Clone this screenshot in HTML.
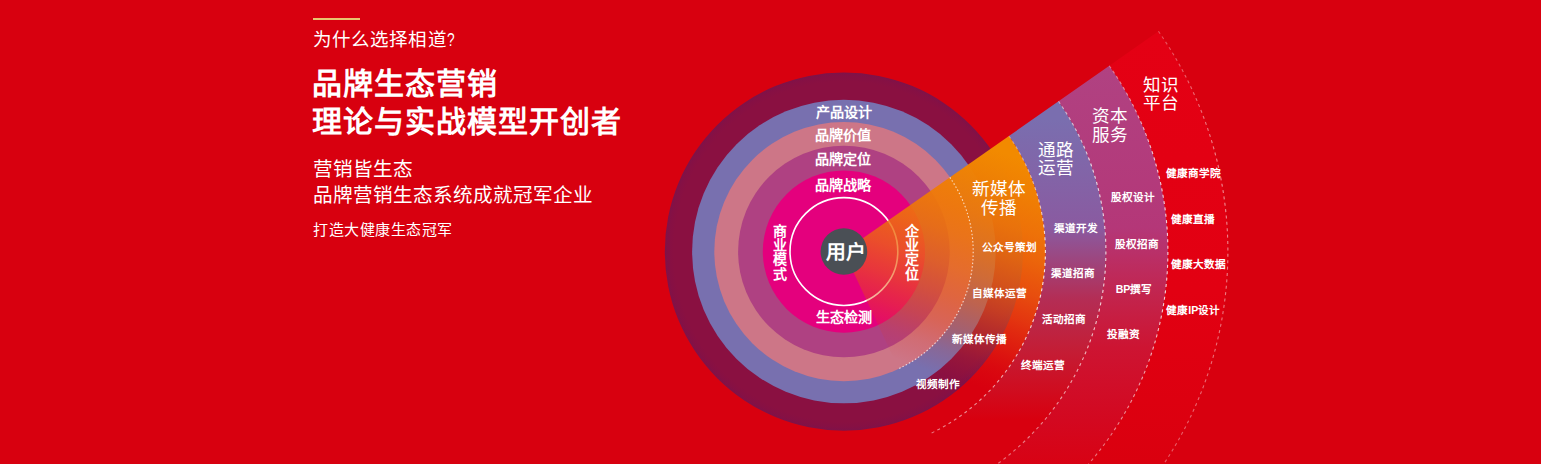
<!DOCTYPE html>
<html lang="zh-CN"><head><meta charset="utf-8">
<style>
html,body{margin:0;padding:0;}
body{width:1541px;height:464px;overflow:hidden;background:#d8000f;font-family:"Liberation Sans",sans-serif;position:relative;}
svg{position:absolute;left:0;top:0;}
svg text{font-family:"Liberation Sans",sans-serif;}
.l{position:absolute;left:313px;color:#fff;white-space:nowrap;}
.bar{position:absolute;left:313px;top:18px;width:47px;height:2px;background:#e9c46e;}
</style></head>
<body>
<svg width="1541" height="464" viewBox="0 0 1541 464">
<defs>
<linearGradient id="gOr" gradientUnits="userSpaceOnUse" x1="845.0" y1="341.0" x2="927.5" y2="105.0"><stop offset="0" stop-color="#e12814" stop-opacity="0"/><stop offset="0.1" stop-color="#e43c12" stop-opacity="0.16"/><stop offset="0.2" stop-color="#e84a10" stop-opacity="0.4"/><stop offset="0.31" stop-color="#eb5a10" stop-opacity="0.6"/><stop offset="0.42" stop-color="#ed690e" stop-opacity="0.74"/><stop offset="0.55" stop-color="#ee730a" stop-opacity="0.87"/><stop offset="0.65" stop-color="#ef7808" stop-opacity="0.94"/><stop offset="0.8" stop-color="#f08203" stop-opacity="0.98"/><stop offset="0.92" stop-color="#f28a00" stop-opacity="1"/></linearGradient>
<linearGradient id="gPu" gradientUnits="userSpaceOnUse" x1="0" y1="120" x2="0" y2="464"><stop offset="0.0000" stop-color="#7a6eaf" stop-opacity="1"/><stop offset="0.3140" stop-color="#8a5aa0" stop-opacity="1"/><stop offset="0.5203" stop-color="#b42d55" stop-opacity="1"/><stop offset="0.6628" stop-color="#c31e37" stop-opacity="1"/><stop offset="0.8721" stop-color="#d8000f" stop-opacity="1"/><stop offset="1.0000" stop-color="#d8000f" stop-opacity="1"/></linearGradient>
<linearGradient id="gMa" gradientUnits="userSpaceOnUse" x1="0" y1="60" x2="0" y2="464"><stop offset="0" stop-color="#b04282" stop-opacity="1"/><stop offset="0.4158" stop-color="#b43778" stop-opacity="1"/><stop offset="0.5916" stop-color="#c3234b" stop-opacity="1"/><stop offset="0.7129" stop-color="#cd1432" stop-opacity="1"/><stop offset="0.8911" stop-color="#d30820" stop-opacity="1"/><stop offset="1" stop-color="#d80214" stop-opacity="1"/></linearGradient>
<linearGradient id="gRe" gradientUnits="userSpaceOnUse" x1="0" y1="30" x2="0" y2="464"><stop offset="0" stop-color="#e40014" stop-opacity="1"/><stop offset="0.6" stop-color="#e20012" stop-opacity="1"/><stop offset="1" stop-color="#da000f" stop-opacity="1"/></linearGradient>
<radialGradient id="gMaroon" gradientUnits="userSpaceOnUse" cx="843.9" cy="251.55" r="179.1"><stop offset="0.95" stop-color="#8a1041"/><stop offset="0.98" stop-color="#861044"/><stop offset="1" stop-color="#7e1249"/></radialGradient>
<linearGradient id="gDash1" gradientUnits="userSpaceOnUse" x1="0" y1="130" x2="0" y2="464"><stop offset="0" stop-color="#fff" stop-opacity="0.3"/><stop offset="0.39" stop-color="#fff" stop-opacity="0.9"/><stop offset="0.55" stop-color="#fff" stop-opacity="0.8"/><stop offset="1" stop-color="#fff" stop-opacity="0.4"/></linearGradient>
<linearGradient id="gDash2" gradientUnits="userSpaceOnUse" x1="0" y1="60" x2="0" y2="464"><stop offset="0" stop-color="#fff" stop-opacity="0.35"/><stop offset="0.25" stop-color="#fff" stop-opacity="0.8"/><stop offset="0.6" stop-color="#fff" stop-opacity="0.8"/><stop offset="1" stop-color="#fff" stop-opacity="0.42"/></linearGradient>
<linearGradient id="gDash3" gradientUnits="userSpaceOnUse" x1="0" y1="30" x2="0" y2="464"><stop offset="0" stop-color="#fff" stop-opacity="0.3"/><stop offset="0.35" stop-color="#fff" stop-opacity="0.55"/><stop offset="1" stop-color="#fff" stop-opacity="0.35"/></linearGradient>
</defs>
<rect width="1541" height="464" fill="#d8000f"/>
<circle cx="843.9" cy="251.55" r="179.1" fill="url(#gMaroon)"/>
<circle cx="843.9" cy="251.55" r="151.8" fill="#7870af"/>
<circle cx="843.9" cy="251.55" r="129.6" fill="#cd7687"/>
<circle cx="843.9" cy="251.55" r="105.8" fill="#af4182"/>
<circle cx="843.9" cy="251.55" r="81.1" fill="#e4007d"/>
<circle cx="843.9" cy="251.55" r="53.9" fill="none" stroke="#fff" stroke-width="1.6"/>
<path d="M1158.45,31.30 A384,384 0 0 1 1006.19,599.57 L980.83,545.19 A324,324 0 0 0 1109.31,65.71 Z" fill="url(#gRe)"/>
<path d="M1109.31,65.71 A324,324 0 0 1 980.83,545.19 L954.63,489.00 A262,262 0 0 0 1058.52,101.27 Z" fill="url(#gMa)"/>
<path d="M1058.52,101.27 A262,262 0 0 1 954.63,489.00 L929.06,434.17 A201.5,201.5 0 0 0 1008.96,135.97 Z" fill="url(#gPu)"/>
<path d="M843.90,251.55 L1008.96,135.97 A201.5,201.5 0 0 1 929.06,434.17 Z" fill="url(#gOr)"/>
<circle cx="843.9" cy="251.55" r="23.3" fill="#4a4f55"/>
<path d="M949.82,177.39 A129.3,129.3 0 0 1 898.54,368.74" fill="none" stroke="#fff" stroke-opacity="0.75" stroke-width="1.1" stroke-dasharray="1.5 2.1"/>
<path d="M1008.96,135.97 A201.5,201.5 0 0 1 929.06,434.17" fill="none" stroke="url(#gDash1)" stroke-width="1.1" stroke-dasharray="3 3.4"/>
<path d="M1058.52,101.27 A262,262 0 0 1 933.51,497.75" fill="none" stroke="url(#gDash2)" stroke-width="1.1" stroke-dasharray="3 3.4"/>
<path d="M1109.31,65.71 A324,324 0 0 1 927.76,564.51" fill="none" stroke="url(#gDash2)" stroke-width="1.1" stroke-dasharray="3 3.4"/>
<path d="M1158.45,31.30 A384,384 0 0 1 943.29,622.47" fill="none" stroke="url(#gDash3)" stroke-width="1.1" stroke-dasharray="3 3.4"/>
<text x="972.01" y="195.34" font-size="17.6" font-weight="normal" text-anchor="start" fill="#fff" >新媒体</text>
<text x="981.24" y="213.6" font-size="17.6" font-weight="normal" text-anchor="start" fill="#fff" >传播</text>
<text x="1037.91" y="155.94" font-size="17.6" font-weight="normal" text-anchor="start" fill="#fff" >通路</text>
<text x="1038.08" y="173.89" font-size="17.6" font-weight="normal" text-anchor="start" fill="#fff" >运营</text>
<text x="1092.26" y="121.85" font-size="17.6" font-weight="normal" text-anchor="start" fill="#fff" >资本</text>
<text x="1092.35" y="140.69" font-size="17.6" font-weight="normal" text-anchor="start" fill="#fff" >服务</text>
<text x="1143.23" y="91.03" font-size="17.6" font-weight="normal" text-anchor="start" fill="#fff" >知识</text>
<text x="1143.31" y="109.24" font-size="17.6" font-weight="normal" text-anchor="start" fill="#fff" >平台</text>
<text x="982.11" y="251.48" font-size="10.6" font-weight="bold" text-anchor="start" fill="#fff" >公众号策划</text>
<text x="972.37" y="296.83" font-size="10.6" font-weight="bold" text-anchor="start" fill="#fff" >自媒体运营</text>
<text x="951.89" y="342.73" font-size="10.6" font-weight="bold" text-anchor="start" fill="#fff" >新媒体传播</text>
<text x="915.8" y="387.98" font-size="10.6" font-weight="bold" text-anchor="start" fill="#fff" >视频制作</text>
<text x="1053.8" y="231.53" font-size="10.6" font-weight="bold" text-anchor="start" fill="#fff" >渠道开发</text>
<text x="1050.96" y="277.13" font-size="10.6" font-weight="bold" text-anchor="start" fill="#fff" >渠道招商</text>
<text x="1041.91" y="322.73" font-size="10.6" font-weight="bold" text-anchor="start" fill="#fff" >活动招商</text>
<text x="1020.96" y="368.98" font-size="10.6" font-weight="bold" text-anchor="start" fill="#fff" >终端运营</text>
<text x="1111.35" y="201.03" font-size="10.6" font-weight="bold" text-anchor="start" fill="#fff" >股权设计</text>
<text x="1114.91" y="247.53" font-size="10.6" font-weight="bold" text-anchor="start" fill="#fff" >股权招商</text>
<text x="1115.73" y="292.53" font-size="10.6" font-weight="bold" text-anchor="start" fill="#fff" >BP撰写</text>
<text x="1106.85" y="337.98" font-size="10.6" font-weight="bold" text-anchor="start" fill="#fff" >投融资</text>
<text x="1165.55" y="176.73" font-size="10.6" font-weight="bold" text-anchor="start" fill="#fff" >健康商学院</text>
<text x="1171.19" y="222.63" font-size="10.6" font-weight="bold" text-anchor="start" fill="#fff" >健康直播</text>
<text x="1171.05" y="268.03" font-size="10.6" font-weight="bold" text-anchor="start" fill="#fff" >健康大数据</text>
<text x="1166.32" y="314.03" font-size="10.6" font-weight="bold" text-anchor="start" fill="#fff" >健康IP设计</text>
<text x="815.57" y="116.69" font-size="14.1" font-weight="bold" text-anchor="start" fill="#fff" >产品设计</text>
<text x="815.32" y="140.04" font-size="14.1" font-weight="bold" text-anchor="start" fill="#fff" >品牌价值</text>
<text x="815.32" y="163.51" font-size="14.1" font-weight="bold" text-anchor="start" fill="#fff" >品牌定位</text>
<text x="815.04" y="190.11" font-size="14.1" font-weight="bold" text-anchor="start" fill="#fff" >品牌战略</text>
<text x="815.94" y="322.43" font-size="14.1" font-weight="bold" text-anchor="start" fill="#fff" >生态检测</text>
<text x="825.79" y="258.72" font-size="19.8" font-weight="bold" text-anchor="start" fill="#fff" >用户</text>
<text x="779.5" y="236.0" font-size="14" font-weight="bold" text-anchor="middle" fill="#fff" >商</text>
<text x="779.5" y="250.2" font-size="14" font-weight="bold" text-anchor="middle" fill="#fff" >业</text>
<text x="779.5" y="264.4" font-size="14" font-weight="bold" text-anchor="middle" fill="#fff" >模</text>
<text x="779.5" y="278.6" font-size="14" font-weight="bold" text-anchor="middle" fill="#fff" >式</text>
<text x="911.7" y="236.0" font-size="14" font-weight="bold" text-anchor="middle" fill="#fff" >企</text>
<text x="911.7" y="250.2" font-size="14" font-weight="bold" text-anchor="middle" fill="#fff" >业</text>
<text x="911.7" y="264.4" font-size="14" font-weight="bold" text-anchor="middle" fill="#fff" >定</text>
<text x="911.7" y="278.6" font-size="14" font-weight="bold" text-anchor="middle" fill="#fff" >位</text>
</svg>
<div class="bar"></div>
<div class="l" style="top:28px;font-size:18.5px;line-height:24px;letter-spacing:0.1px;">为什么选择相道<span style="display:inline-block;font-size:19px;transform:scaleX(0.72);transform-origin:0 50%;">?</span></div>
<div class="l" style="top:65px;left:312px;font-size:30px;line-height:37.5px;font-weight:bold;letter-spacing:0.95px;">品牌生态营销<br>理论与实战模型开创者</div>
<div class="l" style="top:157px;font-size:19.6px;line-height:25.5px;">营销皆生态<br>品牌营销生态系统成就冠军企业</div>
<div class="l" style="top:220px;font-size:15px;line-height:20px;letter-spacing:0.5px;">打造大健康生态冠军</div>
</body></html>
